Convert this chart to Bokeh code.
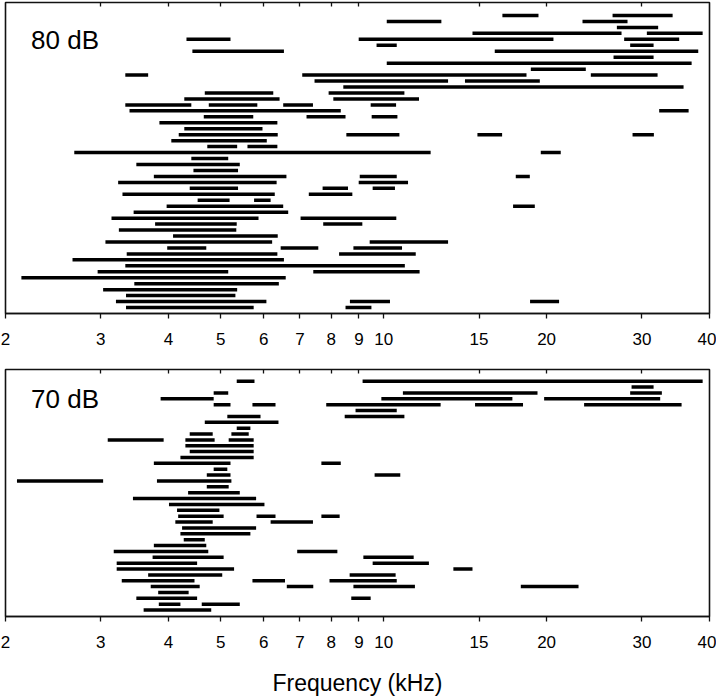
from bokeh.plotting import figure
from bokeh.models import Range1d, FixedTicker, LogAxis, Label, PrintfTickFormatter, ColumnDataSource
from bokeh.layouts import column
from bokeh.embed import file_html
from bokeh.resources import INLINE

# x ticks (kHz)
tick_values = [2, 3, 4, 5, 6, 7, 8, 9, 10, 15, 20, 30, 40]
top_tick_values = [3, 4, 5, 6, 7, 8, 9, 15, 20, 30]

# ---------------- 80 dB panel (row 0 = top) ----------------
row80 = [0, 0, 1, 1, 2, 3, 3, 4, 4, 4, 5, 5, 6, 6, 7, 8, 9, 10, 10, 10,
         11, 11, 12, 13, 13, 14, 14, 15, 15, 15, 15, 16, 16, 17, 17, 17, 18, 19,
         20, 20, 20, 20, 21, 22, 22, 23, 23, 24, 25, 26, 27, 27, 27, 28, 28,
         29, 29, 29, 30, 30, 31, 31, 32, 32, 33, 34, 34, 35, 35, 36, 37, 38, 38,
         39, 39, 39, 40, 40, 41, 42, 43, 43, 44, 45, 46, 47, 48, 48, 48, 49, 49]
lo80 = [16.57, 26.48, 10.13, 23.30, 26.97, 14.59, 30.64, 4.32, 8.99, 27.82, 9.70, 28.54,
        4.43, 16.04, 26.59, 10.13, 18.70, 3.33, 7.07, 24.14,
        7.45, 14.13, 8.42, 4.67, 7.91, 4.28, 8.07, 3.33, 4.75, 6.52, 9.46, 3.39, 32.29,
        4.65, 7.20, 9.50, 3.85, 4.28,
        4.18, 8.53, 14.90, 28.83, 4.05, 4.72, 5.60, 2.68, 19.51, 4.41, 3.49, 4.45,
        3.76, 9.03, 17.54, 3.23, 8.99,
        4.38, 7.71, 9.54, 3.29, 7.27, 4.53, 5.76, 3.97, 17.34, 3.45, 3.14, 7.02,
        3.78, 7.73, 3.24, 4.08, 3.06, 9.42,
        3.98, 6.45, 8.79, 3.35, 8.27, 2.66, 3.33, 2.96, 7.41, 2.14, 3.46, 3.03, 3.34,
        3.20, 8.66, 18.64, 3.34, 8.50]
hi80 = [19.32, 34.19, 12.78, 28.22, 32.15, 27.51, 38.85, 5.21, 20.59, 35.16, 10.57, 31.53,
        6.54, 38.13, 31.53, 37.07, 23.63, 3.67, 18.36, 32.07,
        13.15, 19.43, 35.82, 6.25, 10.92, 6.42, 11.62, 4.41, 5.84, 7.40, 10.54, 8.33, 36.60,
        5.74, 8.50, 10.60, 6.36, 5.97,
        6.37, 10.69, 16.55, 31.57, 6.08, 5.36, 6.36, 12.21, 21.24, 5.16, 5.42, 5.38,
        6.61, 10.57, 18.62, 6.34, 11.09,
        5.38, 8.59, 10.49, 6.29, 8.75, 5.19, 6.18, 6.52, 19.02, 6.66, 5.87, 10.55,
        5.35, 9.13, 5.34, 6.37, 6.22, 13.15,
        4.70, 7.57, 10.81, 6.36, 11.46, 6.54, 10.94, 5.16, 11.65, 6.59, 6.40, 5.36, 5.32,
        6.07, 10.27, 21.09, 5.75, 9.49]

# ---------------- 70 dB panel (row 0 = top) ----------------
row70 = [0, 0, 1, 2, 2, 2, 3, 3, 3, 4, 4, 4, 4, 4, 5, 6, 6, 7, 8, 9, 9,
         10, 10, 10, 11, 12, 13, 14, 14, 15, 16, 16, 17, 17, 18, 19, 20, 21, 22,
         23, 23, 23, 24, 24, 25, 26, 27, 28, 29, 29, 30, 30, 31, 31, 32, 32,
         33, 33, 34, 34, 34, 35, 35, 35, 35, 36, 37, 37, 38, 38, 39]
lo70 = [5.35, 9.14, 28.71, 4.85, 10.85, 28.54, 3.87, 9.90, 19.79, 4.85, 5.72, 7.83, 14.75, 23.46,
        8.87, 5.14, 8.47, 4.67, 5.35, 4.38, 5.23,
        3.09, 4.30, 5.17, 4.30, 4.38, 4.21, 3.76, 7.67, 4.85, 4.71, 9.62, 2.10, 3.81, 4.71,
        4.35, 3.44, 4.01, 4.15,
        4.17, 5.82, 7.67, 4.12, 6.18, 4.24, 4.21, 4.27, 3.76, 3.17, 6.92, 3.74, 9.17,
        3.21, 9.54, 3.21, 13.45,
        3.67, 8.65, 3.28, 5.72, 7.94, 3.71, 6.62, 8.79, 17.92, 3.83, 3.49, 8.71, 3.84, 4.61, 3.60]
hi70 = [5.77, 38.85, 31.53, 5.16, 19.24, 32.66, 4.85, 17.29, 32.43, 5.21, 6.31, 12.74, 18.09, 35.52,
        10.57, 5.92, 10.92, 6.39, 5.67, 4.83, 5.63,
        3.92, 4.87, 5.75, 5.75, 5.75, 5.75, 5.21, 8.33, 5.14, 5.21, 10.73, 3.03, 5.23, 5.17,
        5.42, 5.81, 6.02, 4.97,
        5.06, 6.31, 8.29, 4.83, 7.40, 5.81, 5.67, 4.67, 4.70, 4.74, 8.21, 5.06, 11.36,
        4.52, 12.12, 5.29, 14.59,
        5.03, 10.52, 4.47, 6.57, 10.57, 4.57, 7.41, 11.42, 22.91, 4.36, 4.52, 9.46, 4.21, 5.42, 4.80]

FONT = "Liberation Sans"


def make_panel(rows, lo, hi, y_start, y_end, frame_h, b_top, b_bottom, tag, tag_x, tag_y, xlabel):
    p = figure(x_axis_type="log", x_range=Range1d(2, 40), y_range=Range1d(y_start, y_end),
               frame_width=704, frame_height=frame_h,
               min_border_left=5, min_border_right=7, min_border_top=b_top, min_border_bottom=b_bottom,
               y_axis_location=None, output_backend="svg", toolbar_location=None,
               background_fill_color="white", border_fill_color="white")
    p.grid.visible = False
    p.outline_line_color = "#111111"
    p.outline_line_width = 1.6

    src = ColumnDataSource(dict(row=rows, lo=lo, hi=hi))
    p.segment(x0="lo", y0="row", x1="hi", y1="row", source=src,
              line_color="black", line_width=3.5, line_cap="butt")

    ax = p.xaxis[0]
    ax.ticker = FixedTicker(ticks=tick_values, minor_ticks=[])
    ax.formatter = PrintfTickFormatter(format="%d")
    ax.major_tick_in = 0
    ax.major_tick_out = 5
    ax.major_tick_line_color = "#111111"
    ax.major_tick_line_width = 1.3
    ax.axis_line_color = "#111111"
    ax.axis_line_width = 1.6
    ax.major_label_text_font = FONT
    ax.major_label_text_font_size = "17px"
    ax.major_label_text_color = "black"
    ax.major_label_standoff = 14
    if xlabel:
        ax.axis_label = xlabel
        ax.axis_label_text_font = FONT
        ax.axis_label_text_font_size = "23px"
        ax.axis_label_text_font_style = "normal"
        ax.axis_label_text_color = "black"
        ax.axis_label_standoff = 19

    top = LogAxis(ticker=FixedTicker(ticks=top_tick_values, minor_ticks=[]),
                  major_tick_in=4, major_tick_out=0, major_tick_line_color="#111111",
                  major_tick_line_width=1.3, axis_line_color=None,
                  major_label_text_color=None, major_label_text_font_size="1px",
                  major_label_standoff=0)
    p.add_layout(top, "above")

    p.add_layout(Label(x=tag_x, y=tag_y, text=tag, text_font=FONT, text_font_size="26px",
                       text_color="black", text_baseline="middle"))
    return p


p1 = make_panel(row80, lo80, hi80, 50.0, -2.18, 311, 2, 40, "80 dB", 2.23, 4.1, None)
p2 = make_panel(row70, lo70, hi70, 40.09, -1.99, 247, 16, 80, "70 dB", 2.23, 3.0, "Frequency (kHz)")

layout = column(p1, p2, spacing=0)

html = file_html(layout, INLINE, title="Frequency ranges")
open("out.html", "w").write(html)
